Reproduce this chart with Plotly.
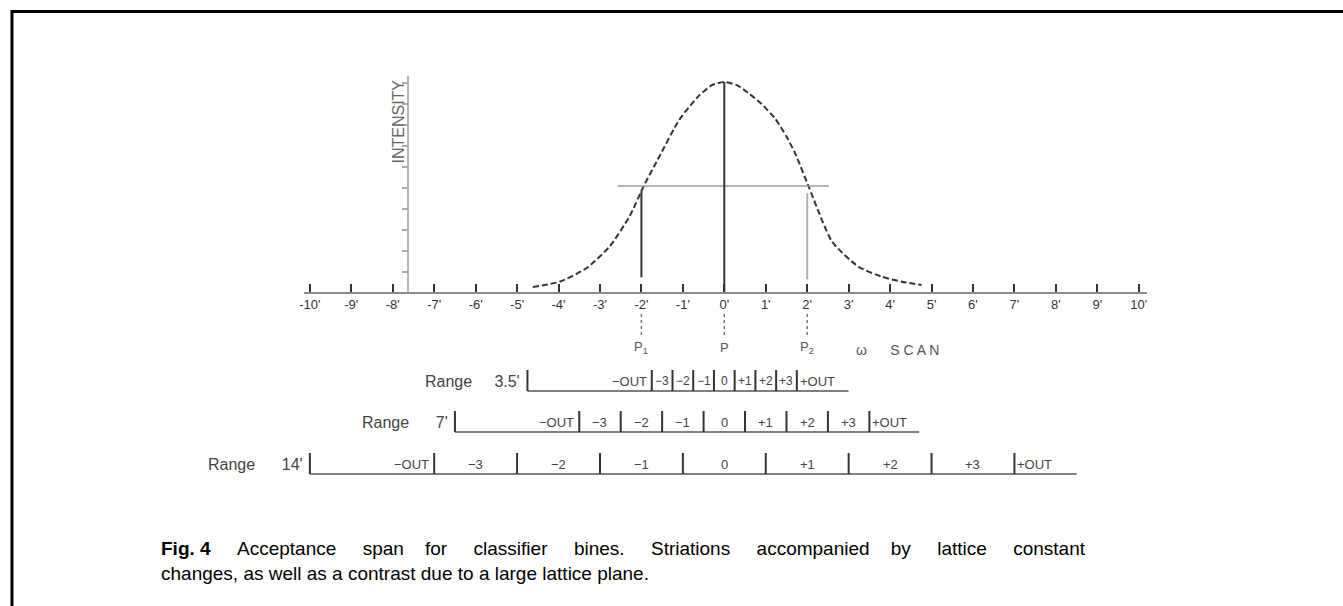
import plotly.graph_objects as go

# ---------------- data ----------------
tick_deg = list(range(-10, 11))
tick_text = ["-10'", "-9'", "-8'", "-7'", "-6'", "-5'", "-4'", "-3'", "-2'", "-1'", "0'",
             "1'", "2'", "3'", "4'", "5'", "6'", "7'", "8'", "9'", "10'"]

# dashed rocking curve (omega scan), degrees vs relative intensity
curve_deg = [-4.62, -3.97, -3.33, -2.77, -2.29, -1.93, -1.57, -1.09, -0.61, -0.3, 0.0,
             0.3, 0.59, 0.9, 1.23, 1.5, 1.71, 2.04, 2.6, 3.24, 3.8, 4.28, 4.76]
curve_int = [0.024, 0.049, 0.113, 0.216, 0.359, 0.51, 0.644, 0.819, 0.935, 0.985, 1.0,
             0.985, 0.946, 0.895, 0.825, 0.74, 0.66, 0.50, 0.24, 0.12, 0.073, 0.049, 0.033]

intensity_ticks = [0.1, 0.2, 0.3, 0.4, 0.5, 0.6, 0.7, 0.8, 0.9, 1.0]

# peak markers P1, P, P2
marker_deg = [-2, 0, 2]
marker_top = [0.48, 1.0, 0.47]
marker_bottom = [0.07, 0.0, 0.06]
marker_labels = ["P<sub>1</sub>", "P", "P<sub>2</sub>"]

# half-maximum level line
half_level = 0.505
half_span = [-2.57, 2.52]

# classifier ranges
range_names = ["Range 3.5'", "Range 7'", "Range 14'"]
range_width = [3.5, 7.0, 14.0]
range_start = [-4.75, -6.5, -10.0]
range_end = [3.0, 4.7, 8.5]
bin_labels = ["\u22123", "\u22122", "\u22121", "0", "+1", "+2", "+3"]
out_low = "\u2212OUT"
out_high = "+OUT"

caption_bold = "Fig. 4"
caption_words1 = ["Acceptance", "span", "for", "classifier", "bines.", "Striations",
                  "accompanied", "by", "lattice", "constant"]
caption_line2 = "changes, as well as a contrast due to a large lattice plane."

# ---------------- pixel <-> data mapping (layout) ----------------
W, H = 1343, 606
X0, PX_PER_DEG = 722.0, 41.6     # pixel of 0 deg, pixels per degree
Y0, PX_PER_I = 292.0, 210.0      # pixel of zero intensity, pixels per unit intensity


def xd(px):
    return (px - X0) / PX_PER_DEG


def yd(px):
    return (Y0 - px) / PX_PER_I


DARK = "#333333"
FONT = "Liberation Sans, Arial, sans-serif"

fig = go.Figure()

# rocking curve
fig.add_trace(go.Scatter(x=curve_deg, y=curve_int, mode="lines",
                         line=dict(color=DARK, width=2, dash="6px,3px", shape="spline", smoothing=0.6),
                         hoverinfo="skip"))

# half maximum line
fig.add_trace(go.Scatter(x=half_span, y=[half_level, half_level], mode="lines",
                         line=dict(color="#9a9a9a", width=1.5), hoverinfo="skip"))

# vertical marker lines
mcolors = [DARK, DARK, "#b0b0b0"]
for xv, top, bot, c in zip(marker_deg, marker_top, marker_bottom, mcolors):
    fig.add_trace(go.Scatter(x=[xv, xv], y=[bot, top], mode="lines",
                             line=dict(color=c, width=2), hoverinfo="skip"))

# dashed drop lines below the axis and P labels
for xv, lab in zip(marker_deg, marker_labels):
    fig.add_trace(go.Scatter(x=[xv, xv], y=[yd(314), yd(337)], mode="lines",
                             line=dict(color="#777777", width=1.5, dash="3px,3px"), hoverinfo="skip"))
    fig.add_annotation(x=xv, y=yd(347), xref="x", yref="y", text=lab, showarrow=False,
                       font=dict(family=FONT, size=13, color="#555555"))

fig.add_annotation(x=xd(896), y=yd(350), xref="x", yref="y",
                   text="\u03c9\u00a0\u00a0\u00a0\u00a0\u00a0\u00a0S C A N", showarrow=False,
                   font=dict(family=FONT, size=14, color="#555555"))

# intensity label
fig.add_annotation(x=xd(394), y=yd(122), xref="x", yref="y", text="INTENSITY",
                   textangle=-90, showarrow=False,
                   font=dict(family=FONT, size=16, color="#666666"))

# classifier range rows
row_line_px = [391, 432, 474]
name_gap = ["\u00a0" * 5, "\u00a0" * 6, "\u00a0" * 6]
for name, gp, w, x_start, x_end, ypx in zip(range_names, name_gap, range_width, range_start,
                                           range_end, row_line_px):
    y_line = yd(ypx)
    y_top = yd(ypx - 21)
    y_text = yd(ypx - 10)
    nb = len(bin_labels)
    edges = [-w / 2 + k * w / nb for k in range(nb + 1)]
    # underline
    fig.add_trace(go.Scatter(x=[x_start, x_end], y=[y_line, y_line], mode="lines",
                             line=dict(color="#555555", width=1.6), hoverinfo="skip"))
    # vertical separators
    bx, by = [], []
    for e in [x_start] + edges:
        bx += [e, e, None]
        by += [y_line, y_top, None]
    fig.add_trace(go.Scatter(x=bx, y=by, mode="lines",
                             line=dict(color=DARK, width=2), hoverinfo="skip"))
    # labels
    fig.add_annotation(x=x_start, y=y_text, xref="x", yref="y", text=name.replace(" ", gp),
                       xanchor="right", xshift=-5, showarrow=False,
                       font=dict(family=FONT, size=16, color="#444444"))
    fig.add_annotation(x=edges[0], y=y_text, xref="x", yref="y", text=out_low,
                       xanchor="right", xshift=-3, showarrow=False,
                       font=dict(family=FONT, size=13, color="#444444"))
    for k, lab in enumerate(bin_labels):
        fig.add_annotation(x=(edges[k] + edges[k + 1]) / 2, y=y_text, xref="x", yref="y",
                           text=lab, showarrow=False,
                           font=dict(family=FONT, size=13 if w > 4 else 12, color="#444444"))
    fig.add_annotation(x=edges[-1], y=y_text, xref="x", yref="y", text=out_high,
                       xanchor="left", xshift=1, showarrow=False,
                       font=dict(family=FONT, size=13, color="#444444"))

# dummy traces so the drawn axes exist
fig.add_trace(go.Scatter(x=[0], y=[0.5], xaxis="x2", yaxis="y", mode="markers",
                         marker=dict(opacity=0), hoverinfo="skip"))
fig.add_trace(go.Scatter(x=[0], y=[0.5], xaxis="x", yaxis="y2", mode="markers",
                         marker=dict(opacity=0), hoverinfo="skip"))

# caption (line 1 justified in the original -> widened gaps)
gap4 = " " + "\u00a0" * 4
gap3 = " " + "\u00a0" * 3
gaps = [gap4, gap4, gap3, gap4, gap4, gap4, gap4, gap3, gap4, gap4]
line1 = "<b>" + caption_bold + "</b>"
for g, wd in zip(gaps, caption_words1):
    line1 += g + wd
fig.add_annotation(x=155 / W, y=1 - 536 / H, xref="paper", yref="paper",
                   text=line1 + "<br>" + caption_line2, align="left",
                   xanchor="left", yanchor="top", showarrow=False,
                   font=dict(family=FONT, size=19, color="#000000"))

# outer frame (continues past the right and bottom edges)
fig.add_shape(type="rect", xref="paper", yref="paper",
              x0=7 / W, x1=1.05, y0=1 - 11.5 / H, y1=-0.05,
              line=dict(color="#000000", width=3), fillcolor="rgba(0,0,0,0)")

x2_px = [300, 1146]
fig.update_layout(
    width=W, height=H, margin=dict(l=0, r=0, t=0, b=0),
    paper_bgcolor="white", plot_bgcolor="rgba(0,0,0,0)", showlegend=False,
    xaxis=dict(visible=False, range=[xd(0), xd(W)], domain=[0, 1]),
    yaxis=dict(visible=False, range=[yd(H), yd(0)], domain=[0, 1]),
    xaxis2=dict(anchor="free", position=1 - (Y0 + 1) / H, domain=[x2_px[0] / W, x2_px[1] / W],
                range=[xd(x2_px[0]), xd(x2_px[1])], showline=True, linecolor="#8c8c8c", linewidth=1.5,
                ticks="inside", ticklen=8, tickwidth=2, tickcolor=DARK,
                tickvals=tick_deg, ticktext=tick_text, showgrid=False, zeroline=False,
                tickfont=dict(family=FONT, size=13, color="#333333")),
    yaxis2=dict(anchor="free", position=405 / W, domain=[1 - (Y0 + 1) / H, 1 - 76 / H],
                range=[0, (Y0 + 1 - 76) / PX_PER_I], showline=True, linecolor="#b5b5b5", linewidth=1.5,
                ticks="outside", ticklen=6, tickwidth=1.5, tickcolor="#aaaaaa",
                tickvals=intensity_ticks, showticklabels=False, showgrid=False, zeroline=False),
)

fig.write_html("out.html")
